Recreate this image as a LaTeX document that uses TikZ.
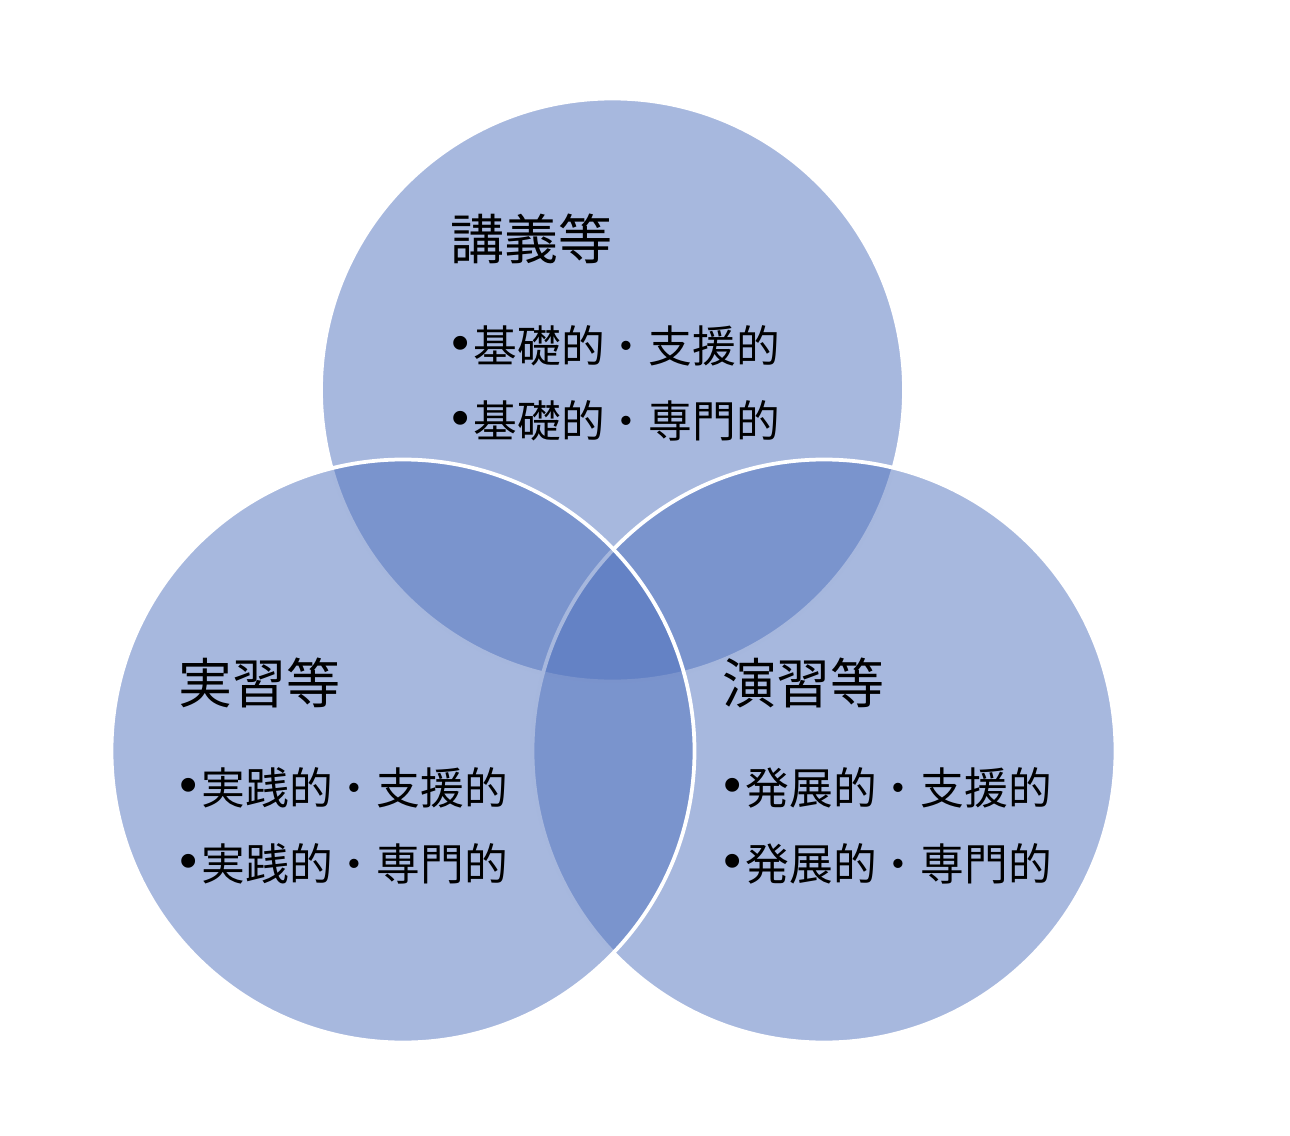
\documentclass[tikz,border=0pt]{standalone}
\usepackage{fontspec}
\setmainfont{Liberation Serif}
\newfontfamily\jpfont{Noto Sans CJK JP}
\usepackage{tikz}
\usetikzlibrary{positioning}
\definecolor{vennblue}{RGB}{79,113,189}
\newcommand{\vbullet}{{\rmfamily\fontsize{33}{30}\selectfont •}\hspace{0.06cm}}

\begin{document}
\begin{tikzpicture}[
    set/.style={circle, draw=white, line width=0.075cm, fill=vennblue, fill opacity=0.5, minimum size=11.66cm, inner sep=0pt},
    title/.style={anchor=west, inner sep=0pt, font=\jpfont\fontsize{30.7}{36}\selectfont},
    item/.style={anchor=west, inner sep=0pt, font=\jpfont\fontsize{24.9}{30}\selectfont}
]
\useasboundingbox (0,0) rectangle (25.8,-22.72);

% Circles
\node[set] (lecture) at (12.25, -7.8) {};
\node[set] (exercise) at (16.48, -15.02) {};
\node[set] (practice) at (8.06, -15.02) {};

% Top: lectures
\node[title] (lectitle) at (9.0, -4.78) {講義等};
\node[item] (lec1) at (9.0, -6.92) {\vbullet 基礎的・支援的};
\node[item] (lec2) at (9.0, -8.42) {\vbullet 基礎的・専門的};

% Left: practicum
\node[title] (practitle) at (3.56, -13.66) {実習等};
\node[item] (prac1) at (3.56, -15.76) {\vbullet 実践的・支援的};
\node[item] (prac2) at (3.56, -17.28) {\vbullet 実践的・専門的};

% Right: exercises
\node[title] (extitle) at (14.44, -13.66) {演習等};
\node[item] (ex1) at (14.44, -15.76) {\vbullet 発展的・支援的};
\node[item] (ex2) at (14.44, -17.28) {\vbullet 発展的・専門的};

\end{tikzpicture}
\end{document}
